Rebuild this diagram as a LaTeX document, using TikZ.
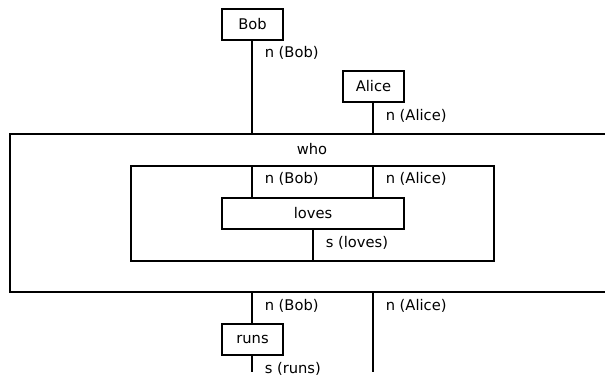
\documentclass[tikz,border=0pt]{standalone}
\usepackage{fontspec}
\setmainfont{DejaVu Sans}
\begin{document}
\begin{tikzpicture}[x=1pt,y=-1pt,line width=1.5pt,
  box/.style={draw,minimum height=31pt,inner sep=0pt,font=\fontsize{14.7}{16}\selectfont},
  lbl/.style={anchor=west,inner sep=0pt,font=\fontsize{14.7}{16}\selectfont}]
\clip (0,0) rectangle (605,377);
% outer and inner frames
\draw (606,134) -- (10,134) -- (10,292) -- (606,292);
\node[draw,minimum width=363pt,minimum height=95pt,inner sep=0pt] (inner) at (312.5,213.5) {};
% boxes
\node[box,minimum width=61pt] (bob) at (252.5,24.5) {Bob};
\node[box,minimum width=61pt] (alice) at (373.5,86.5) {Alice};
\node[box,minimum width=182pt] (loves) at (313,213.5) {loves};
\node[box,minimum width=61pt] (runs) at (252.5,339.5) {runs};
% coordinates on frames
\coordinate (otB) at (252,134);
\coordinate (otA) at (373,134);
\coordinate (obB) at (252,292);
\coordinate (obA) at (373,292);
\coordinate (itB) at (252,166);
\coordinate (itA) at (373,166);
\coordinate (lB) at (252,198);
\coordinate (lA) at (373,198);
\coordinate (ls) at (313,229);
\coordinate (ib) at (313,261);
\coordinate (endR) at (252,372);
\coordinate (endA) at (373,372);
% wires
\draw (bob.south -| otB) -- (otB);
\draw (alice.south -| otA) -- (otA);
\draw (itB) -- (lB);
\draw (itA) -- (lA);
\draw (ls) -- (ib);
\draw (obB) -- (runs.north -| obB);
\draw (runs.south -| endR) -- (endR);
\draw (obA) -- (endA);
% labels
\node[lbl] (l1) at (264,53) {n (Bob)};
\node[lbl] (l2) at (385,116) {n (Alice)};
\node (who) at (312,149) [inner sep=0pt,font=\fontsize{14.7}{16}\selectfont] {who};
\node[lbl] (l3) at (264,179) {n (Bob)};
\node[lbl] (l4) at (385,179) {n (Alice)};
\node[lbl] (l5) at (325,243) {s (loves)};
\node[lbl] (l6) at (264,306) {n (Bob)};
\node[lbl] (l7) at (385,306) {n (Alice)};
\node[lbl] (l8) at (264,369) {s (runs)};
\end{tikzpicture}
\end{document}
